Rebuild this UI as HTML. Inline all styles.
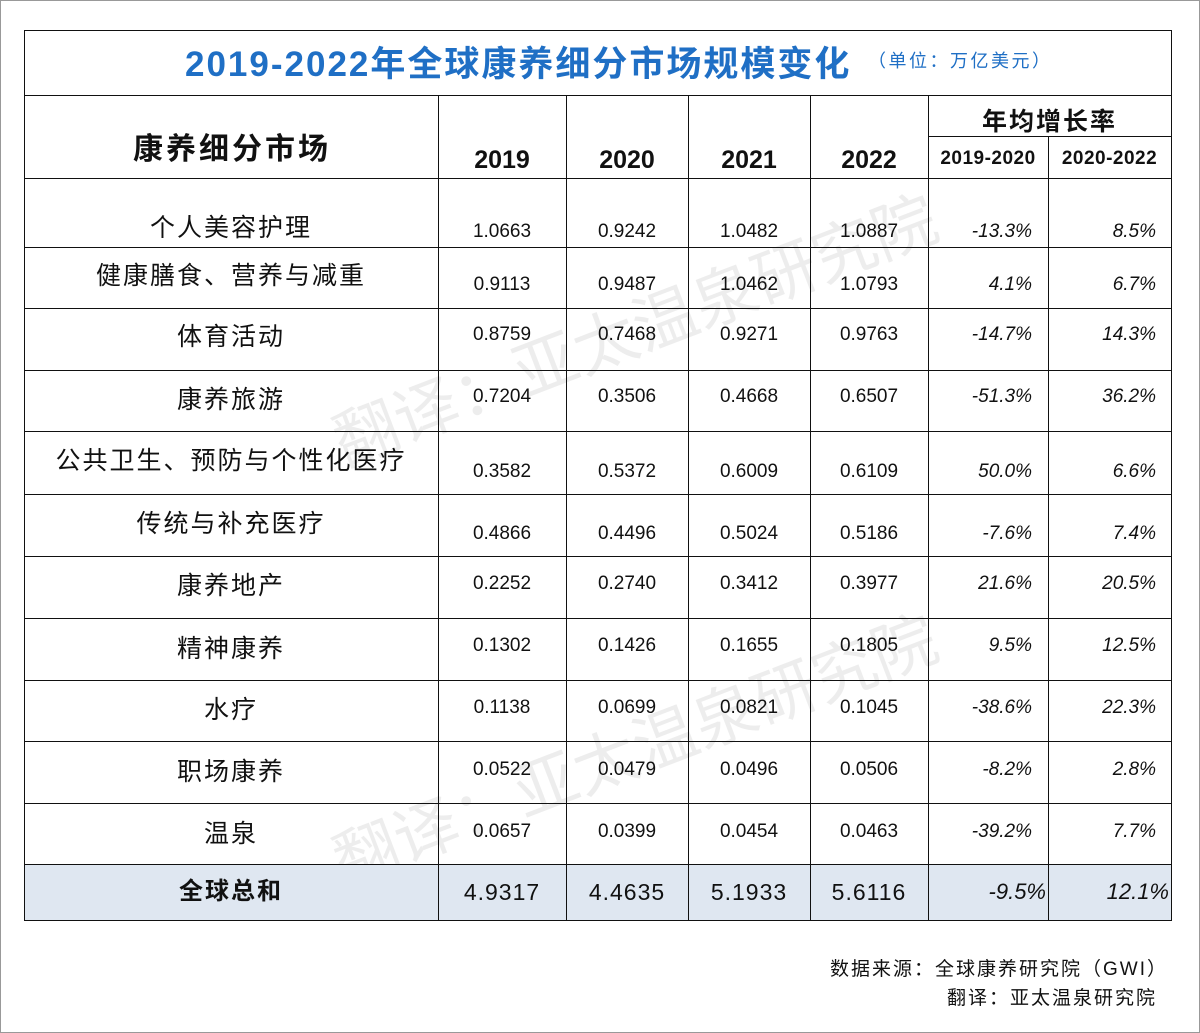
<!DOCTYPE html>
<html><head><meta charset="utf-8">
<style>
body{margin:0;width:1200px;height:1033px;background:#fff;position:relative;overflow:hidden;font-family:"Liberation Sans","Noto Sans CJK SC",sans-serif;color:#111}
#frame{position:absolute;left:0;top:0;width:1198px;height:1031px;border:1px solid #999}
.t{position:absolute;white-space:nowrap}
.hl{position:absolute;height:1px;background:#111}
.vl{position:absolute;width:1px;background:#111}
.wm{position:absolute;font-size:64px;color:rgba(0,0,0,0.07);transform-origin:left center;transform:rotate(-21deg);white-space:nowrap;font-family:"Liberation Sans","Noto Sans CJK SC",sans-serif}
</style></head><body>
<div id="frame"></div>
<div id="tbl"></div>
<div class="t" style="left:185px;top:36px;font-size:35px;font-weight:bold;letter-spacing:2px;color:#1f6fc5;font-family:'Liberation Sans','Noto Sans CJK SC',sans-serif">2019-2022年全球康养细分市场规模变化</div>
<div class="t" style="left:868px;top:47px;font-size:18px;letter-spacing:2.5px;color:#1f6fc5">（单位：万亿美元）</div>
<div class="t" style="left:133px;top:124px;font-size:30px;font-weight:bold;letter-spacing:3px">康养细分市场</div>
<div class="t" style="left:928px;top:102px;width:243px;text-align:center;font-size:25px;font-weight:bold;letter-spacing:2px">年均增长率</div>
<div class="t" style="left:830px;top:954px;font-size:19px;letter-spacing:2px">数据来源：全球康养研究院（GWI）</div>
<div class="t" style="left:947px;top:983px;font-size:19px;letter-spacing:2px">翻译：亚太温泉研究院</div>
<div class="wm" style="left:335px;top:395px">翻译：亚太温泉研究院</div>
<div class="wm" style="left:335px;top:815px">翻译：亚太温泉研究院</div>
<script>
const segments=["个人美容护理","健康膳食、营养与减重","体育活动","康养旅游","公共卫生、预防与个性化医疗","传统与补充医疗","康养地产","精神康养","水疗","职场康养","温泉"];
const years=["2019","2020","2021","2022"];
const v2019=["1.0663","0.9113","0.8759","0.7204","0.3582","0.4866","0.2252","0.1302","0.1138","0.0522","0.0657"];
const v2020=["0.9242","0.9487","0.7468","0.3506","0.5372","0.4496","0.2740","0.1426","0.0699","0.0479","0.0399"];
const v2021=["1.0482","1.0462","0.9271","0.4668","0.6009","0.5024","0.3412","0.1655","0.0821","0.0496","0.0454"];
const v2022=["1.0887","1.0793","0.9763","0.6507","0.6109","0.5186","0.3977","0.1805","0.1045","0.0506","0.0463"];
const g1920=["-13.3%","4.1%","-14.7%","-51.3%","50.0%","-7.6%","21.6%","9.5%","-38.6%","-8.2%","-39.2%"];
const g2022=["8.5%","6.7%","14.3%","36.2%","6.6%","7.4%","20.5%","12.5%","22.3%","2.8%","7.7%"];
const rangeLabels=["2019-2020","2020-2022"];
const totalVals=["4.9317","4.4635","5.1933","5.6116"];
const totalGrowth=["-9.5%","12.1%"];

const cols=[24,438,566,688,810,928,1048,1171];
const nameY=[228,276,337,400,461,524,586,649,710,772,834];
const numY=[232,285,335,397,472,534,584,646,708,770,832];
const b=document.body;
function add(cls,style,name){const d=document.createElement('div');d.className=cls;d.setAttribute('style',style);


b.appendChild(d);return d;}
add('t','left:24px;top:864px;width:1147px;height:56px;background:#dfe7f1','total-row-bg');
[30,95,178,247,308,370,431,494,556,618,680,741,803,864,920].forEach(y=>add('hl',`left:24px;top:${y}px;width:1148px`,'row-line'));
add('hl','left:928px;top:136px;width:243px','cagr-subheader-line');
add('vl','left:24px;top:30px;height:891px','table-left-border');
add('vl','left:1171px;top:30px;height:891px','table-right-border');
cols.slice(1,6).forEach(x=>add('vl',`left:${x}px;top:95px;height:825px`,'column-line'));
add('vl','left:1048px;top:136px;height:784px','column-line');
function txt(s,x,w,y,size,extra,name){const d=add('t',`left:${x}px;width:${w}px;top:${y-size*0.58}px;font-size:${size}px;line-height:${Math.round(size*1.15)}px;text-align:center;${extra||''}`,name);d.textContent=s;return d;}
years.forEach((yr,i)=>txt(yr,cols[i+1],cols[i+2]-cols[i+1],160,25,'font-weight:bold','year-header'));
rangeLabels.forEach((r,i)=>txt(r,cols[5+i],cols[6+i]-cols[5+i],159,19,'font-weight:bold;letter-spacing:0.5px','cagr-range-header'));
const vals=[v2019,v2020,v2021,v2022];
segments.forEach((s,r)=>{
  txt(s,24,414,nameY[r],25,'letter-spacing:2px','segment-name');
  vals.forEach((arr,c)=>txt(arr[r],cols[c+1],cols[c+2]-cols[c+1],numY[r],19,'','value-cell'));
  txt(g1920[r],928,104,numY[r],19,'font-style:italic;text-align:right','growth-2019-2020');
  txt(g2022[r],1048,108,numY[r],19,'font-style:italic;text-align:right','growth-2020-2022');
});
txt('全球总和',24,414,892,24,'font-weight:bold;letter-spacing:2px','total-label');
totalVals.forEach((v,c)=>txt(v,cols[c+1],cols[c+2]-cols[c+1],892,23,'letter-spacing:1px','total-value'));
txt(totalGrowth[0],928,118,892,22,'font-style:italic;text-align:right','total-growth-2019-2020');
txt(totalGrowth[1],1048,121,892,22,'font-style:italic;text-align:right','total-growth-2020-2022');
</script>
</body></html>
